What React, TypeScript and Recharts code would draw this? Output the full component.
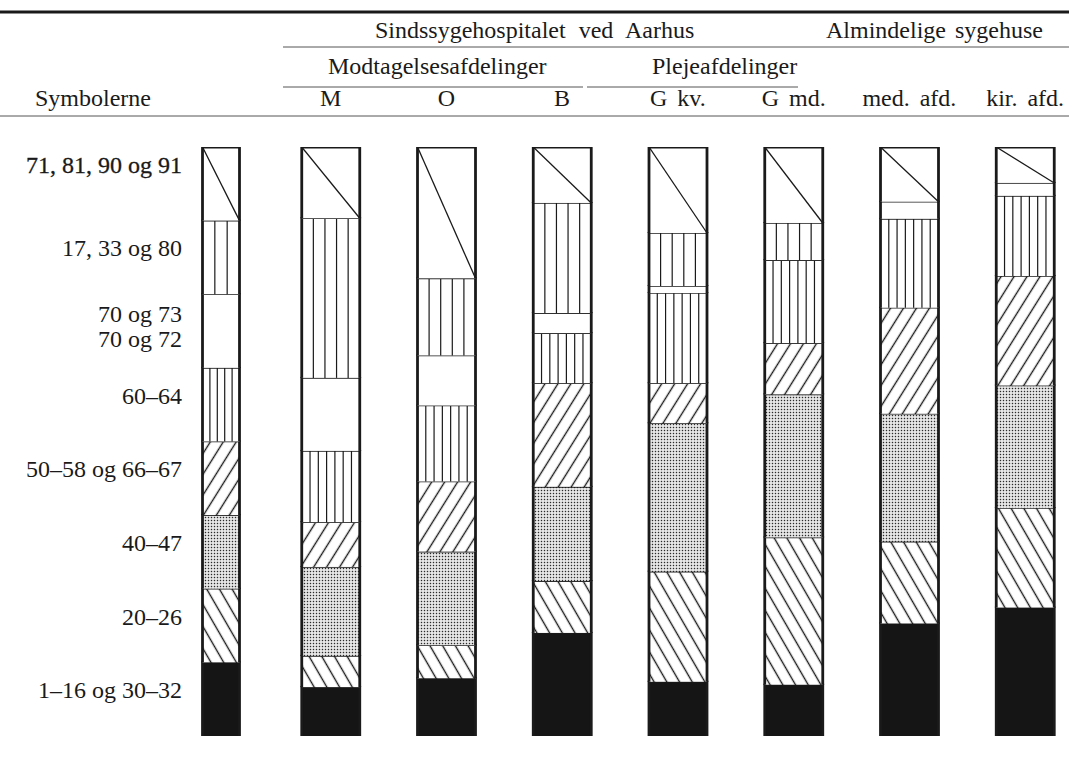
import React from 'react'
import { BarChart, Bar, XAxis, YAxis } from 'recharts'

// columns: the symbol key first, then the seven departments
const categories = ['Symbolerne', 'M', 'O', 'B', 'G kv.', 'G md.', 'med. afd.', 'kir. afd.']

// share of each symbol group in every column (percent), bottom to top
const black = [12.5, 8.3, 9.8, 17.5, 9.2, 8.7, 19.1, 21.8]
const backHatch = [12.5, 5.3, 5.6, 8.8, 18.7, 25.0, 13.9, 16.9]
const dotted = [12.5, 15.1, 15.9, 16.0, 25.2, 24.3, 21.7, 20.8]
const fwdHatch = [12.5, 7.6, 11.9, 17.6, 6.8, 8.7, 18.0, 18.6]
const denseLines = [12.5, 12.1, 12.9, 8.5, 15.3, 14.1, 15.1, 13.6]
const blank = [12.5, 12.4, 8.5, 3.4, 1.2, 0, 2.9, 2.2]
const sparseLines = [12.5, 27.1, 13.1, 18.7, 9.0, 6.3, 0, 0]
const triangle = [12.5, 12.1, 22.3, 9.5, 14.6, 12.9, 9.3, 6.1]

// labels of the symbol key, bottom to top
const symbolLabels = [
  '1–16 og 30–32',
  '20–26',
  '40–47',
  '50–58 og 66–67',
  '60–64',
  '70 og 73\n70 og 72',
  '17, 33 og 80',
  '71, 81, 90 og 91',
]

const seriesKeys = ['black', 'backHatch', 'dotted', 'fwdHatch', 'denseLines', 'blank', 'sparseLines', 'triangle']
const seriesValues = [black, backHatch, dotted, fwdHatch, denseLines, blank, sparseLines, triangle]

const data = categories.map((name, i) => {
  const row: { [key: string]: string | number } = { name }
  seriesKeys.forEach((key, k) => {
    row[key] = seriesValues[k][i]
  })
  return row
})

// tick positions = middle of each segment in the key column
const symbolTicks: number[] = []
let acc = 0
seriesValues.forEach((values) => {
  symbolTicks.push(acc + values[0] / 2)
  acc += values[0]
})

const FONT = 'Liberation Serif, Times New Roman, DejaVu Serif, serif'
const INK = '#1a1a1a'
const FS = 24

const fills: { [key: string]: string } = {
  black: '#151515',
  backHatch: 'url(#hatchBack)',
  dotted: 'url(#dots)',
  fwdHatch: 'url(#hatchFwd)',
  denseLines: '#fff',
  blank: '#fff',
  sparseLines: '#fff',
  triangle: '#fff',
}

const makeShape = (kind: string) => (props: any) => {
  const { x, y, width, height, payload } = props
  if (!height || height <= 0) return <g />
  let bx = x
  let w = width
  if (payload && payload.name === 'Symbolerne') {
    w = 37
    bx = x + (width - w) / 2 + 6
  }
  const inner: React.ReactNode[] = []
  if (kind === 'sparseLines' || kind === 'denseLines') {
    const n = Math.round(w / (kind === 'sparseLines' ? 12 : 8)) - 1
    for (let j = 1; j <= n; j++) {
      const lx = bx + (w * j) / (n + 1)
      inner.push(<line key={j} x1={lx} x2={lx} y1={y} y2={y + height} stroke={INK} strokeWidth={1.2} />)
    }
  }
  if (kind === 'triangle') {
    inner.push(<line key="d" x1={bx} y1={y} x2={bx + w} y2={y + height} stroke={INK} strokeWidth={1.3} />)
  }
  return (
    <g>
      <rect x={bx} y={y} width={w} height={height} fill={fills[kind]} />
      {inner}
      <line x1={bx} x2={bx + w} y1={y} y2={y} stroke={INK} strokeWidth={kind === 'triangle' ? 3 : 1.6} />
      <line x1={bx} x2={bx} y1={y - 1} y2={y + height} stroke={INK} strokeWidth={2.8} />
      <line x1={bx + w} x2={bx + w} y1={y - 1} y2={y + height} stroke={INK} strokeWidth={2.8} />
    </g>
  )
}

const CategoryTick = (props: any) => {
  const { x, payload } = props
  const first = payload.value === 'Symbolerne'
  return (
    <text
      x={first ? 93 : x}
      y={106}
      textAnchor="middle"
      style={{ fontFamily: FONT, fontSize: FS, wordSpacing: 4 }}
      fill={INK}
    >
      {payload.value}
    </text>
  )
}

const SymbolTick = (props: any) => {
  const { y, index } = props
  const label = symbolLabels[index] || ''
  const lines = label.split('\n')
  if (lines.length > 1) {
    return (
      <text x={182} y={y - 9} textAnchor="end" style={{ fontFamily: FONT, fontSize: FS }} fill={INK}>
        <tspan x={182}>{lines[0]}</tspan>
        <tspan x={182} dy={25}>{lines[1]}</tspan>
      </text>
    )
  }
  const top = index === symbolLabels.length - 1
  return (
    <text
      x={182}
      y={top ? y - 11 : y - 1}
      textAnchor="end"
      style={{ fontFamily: FONT, fontSize: FS }}
      fill={INK}
      stroke={top ? INK : 'none'}
      strokeWidth={top ? 0.3 : 0}
    >
      {label}
    </text>
  )
}

const Header = () => (
  <svg
    width={1069}
    height={763}
    style={{ position: 'absolute', left: 0, top: 0, pointerEvents: 'none' }}
  >
    <line x1={0} x2={1069} y1={12} y2={12} stroke={INK} strokeWidth={3} />
    <g style={{ fontFamily: FONT, fontSize: FS }} fill={INK}>
      <text x={375} y={38} style={{ wordSpacing: 7 }}>Sindssygehospitalet ved Aarhus</text>
      <text x={826} y={38} style={{ wordSpacing: 3 }}>Almindelige sygehuse</text>
      <text x={328} y={74}>Modtagelsesafdelinger</text>
      <text x={652} y={74}>Plejeafdelinger</text>
    </g>
    <line x1={283} x2={1069} y1={47} y2={47} stroke="#555" strokeWidth={1} />
    <line x1={283} x2={583} y1={87} y2={87} stroke="#555" strokeWidth={1} />
    <line x1={587} x2={798} y1={87} y2={87} stroke="#555" strokeWidth={1} />
    <line x1={0} x2={1069} y1={116} y2={116} stroke="#555" strokeWidth={1} />
  </svg>
)

export default function App() {
  return (
    <div
      style={{
        position: 'absolute',
        left: 0,
        top: 0,
        width: 1069,
        height: 763,
        overflow: 'hidden',
        background: '#fff',
      }}
    >
      <BarChart
        width={1100}
        height={763}
        data={data}
        margin={{ top: 107, right: 17, bottom: 27, left: 0 }}
        barSize={58}
      >
        <defs>
          <pattern id="hatchFwd" width={11} height={11} patternUnits="userSpaceOnUse" patternTransform="rotate(32)">
            <rect width={11} height={11} fill="#fff" />
            <line x1={5.5} y1={0} x2={5.5} y2={11} stroke={INK} strokeWidth={1.4} />
          </pattern>
          <pattern id="hatchBack" width={11} height={11} patternUnits="userSpaceOnUse" patternTransform="rotate(-30)">
            <rect width={11} height={11} fill="#fff" />
            <line x1={5.5} y1={0} x2={5.5} y2={11} stroke={INK} strokeWidth={1.4} />
          </pattern>
          <pattern id="dots" width={3} height={3} patternUnits="userSpaceOnUse">
            <rect width={3} height={3} fill="#eeeeee" />
            <rect x={0.8} y={0.8} width={1.4} height={1.4} fill="#2a2a2a" />
          </pattern>
        </defs>
        <XAxis
          dataKey="name"
          orientation="top"
          height={40}
          axisLine={false}
          tickLine={false}
          interval={0}
          tick={<CategoryTick />}
        />
        <YAxis
          type="number"
          domain={[0, 100]}
          allowDataOverflow
          ticks={symbolTicks}
          width={157}
          axisLine={false}
          tickLine={false}
          tick={<SymbolTick />}
        />
        {seriesKeys.map((key) => (
          <Bar key={key} dataKey={key} stackId="s" shape={makeShape(key)} isAnimationActive={false} />
        ))}
      </BarChart>
      <Header />
    </div>
  )
}
